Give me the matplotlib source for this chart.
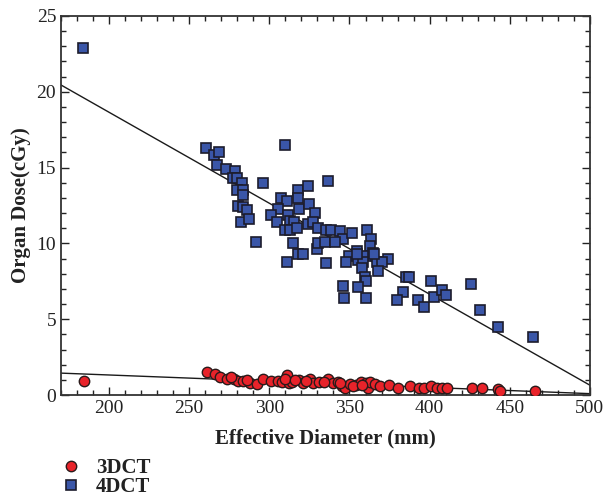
import numpy as np
import matplotlib
matplotlib.use("Agg")
import matplotlib.pyplot as plt
from matplotlib.ticker import MultipleLocator

# --- DATA ---
x_3dct = [184.3, 261.2, 266.0, 269.3, 273.7, 278.1, 280.3, 283.6, 288.0, 292.0,
          296.3, 300.8, 305.1, 308.2, 311.0, 312.2, 314.3, 318.7, 320.9, 325.3,
          327.5, 330.8, 336.3, 339.6, 342.9, 345.1, 347.3, 350.6, 353.9, 357.2,
          360.5, 361.6, 362.7, 366.0, 369.3, 374.7, 380.2, 388.0, 393.5, 396.7,
          401.1, 404.4, 407.7, 411.0, 426.4, 432.5, 442.4, 443.9, 465.9,
          310.0, 316.0, 323.0, 334.0, 344.0, 352.0, 358.0, 276.0, 286.0]
y_3dct = [0.95, 1.55, 1.38, 1.22, 1.08, 1.08, 0.92, 0.92, 0.80, 0.72,
          1.08, 0.92, 0.92, 0.88, 1.30, 0.80, 0.84, 0.98, 0.80, 1.08,
          0.80, 0.84, 1.08, 0.80, 0.84, 0.62, 0.46, 0.72, 0.68, 0.84,
          0.80, 0.46, 0.84, 0.72, 0.62, 0.68, 0.46, 0.57, 0.46, 0.46,
          0.57, 0.46, 0.46, 0.46, 0.50, 0.50, 0.40, 0.28, 0.28,
          1.08, 0.98, 0.92, 0.88, 0.78, 0.58, 0.68, 1.18, 0.98]

x_4dct = [183.7, 260.5, 265.6, 268.8, 267.1, 273.0, 278.5, 277.5, 279.6, 282.7,
          279.6, 283.3, 283.3, 280.6, 283.3, 285.8, 282.1, 287.5, 296.2, 291.5,
          310.0, 307.0, 311.2, 317.6, 318.0, 324.3, 305.6, 300.8, 305.0, 311.8,
          312.8, 318.7, 324.7, 328.5, 315.3, 309.7, 312.9, 317.4, 324.3, 327.4,
          330.1, 314.5, 311.2, 318.0, 321.2, 329.5, 330.5, 336.4, 335.3, 338.4,
          344.0, 346.1, 351.7, 361.1, 363.4, 362.8, 334.7, 340.9, 354.4, 349.7,
          355.5, 360.3, 364.8, 374.2, 358.6, 347.8, 335.3, 366.9, 370.0, 354.8,
          365.3, 367.5, 358.0, 359.6, 360.3, 346.1, 355.5, 346.5, 360.3, 385.2,
          387.3, 400.6, 383.5, 379.4, 392.9, 396.6, 402.7, 407.5, 410.2, 426.0,
          431.4, 442.8, 464.6]
y_4dct = [22.9, 16.3, 15.8, 16.0, 15.2, 14.9, 14.8, 14.3, 14.3, 14.0,
          13.5, 13.5, 13.2, 12.5, 12.4, 12.2, 11.4, 11.6, 14.0, 10.1,
          16.5, 13.0, 12.8, 13.5, 13.0, 13.8, 12.3, 11.9, 11.4, 11.9,
          11.5, 12.3, 12.6, 12.0, 11.4, 10.9, 10.9, 11.0, 11.3, 11.4,
          11.0, 10.0, 8.8, 9.3, 9.3, 9.6, 10.0, 14.1, 10.9, 10.9,
          10.8, 10.3, 10.7, 10.9, 10.3, 9.8, 10.1, 10.1, 9.5, 9.2,
          8.9, 9.2, 9.4, 9.0, 8.8, 8.8, 8.7, 8.8, 8.8, 9.3,
          9.3, 8.2, 8.4, 7.8, 7.5, 7.2, 7.1, 6.4, 6.4, 7.8,
          7.8, 7.5, 6.8, 6.3, 6.3, 5.8, 6.5, 6.9, 6.6, 7.3,
          5.6, 4.5, 3.8]

# linear fits (slope, intercept)
fit_3dct = (-0.00410, 2.147)
fit_4dct = (-0.05997, 30.64)

series_labels = ["3DCT", "4DCT"]

# --- PLOT ---
plt.rcParams['font.family'] = ['Liberation Serif', 'DejaVu Serif']
fig = plt.figure(figsize=(6.10, 4.97), dpi=100)
ax = fig.add_axes([0.100, 0.205, 0.867, 0.763])

xlim = (170, 500)
xs = np.array(xlim)
ax.plot(xs, fit_4dct[0] * xs + fit_4dct[1], color='#1a1a1a', lw=1.0, zorder=2)
ax.plot(xs, fit_3dct[0] * xs + fit_3dct[1], color='#1a1a1a', lw=1.0, zorder=2)

ax.plot(x_3dct, y_3dct, 'o', ms=7.5, mfc='#e8232a', mec='#2a1a1a', mew=1.0,
        ls='none', label=series_labels[0], zorder=3)
ax.plot(x_4dct, y_4dct, 's', ms=7, mfc='#3a56a8', mec='#1c1c2c', mew=1.2,
        ls='none', label=series_labels[1], zorder=3)

ax.set_xlim(*xlim)
ax.set_ylim(0, 25)
ax.xaxis.set_major_locator(MultipleLocator(50))
ax.xaxis.set_minor_locator(MultipleLocator(10))
ax.yaxis.set_major_locator(MultipleLocator(5))
ax.yaxis.set_minor_locator(MultipleLocator(1))
ax.tick_params(which='both', direction='in', top=True, right=True,
               labelsize=14, colors='#222222', width=1.0)
ax.tick_params(which='major', length=6)
ax.tick_params(which='minor', length=3.5)
for sp in ax.spines.values():
    sp.set_linewidth(1.3)
    sp.set_color('#333333')

ax.set_xlabel("Effective Diameter (mm)", fontsize=15, fontweight='bold',
              color='#222222', labelpad=8)
ax.set_ylabel("Organ Dose(cGy)", fontsize=15, fontweight='bold',
              color='#222222', labelpad=4)

h, l = ax.get_legend_handles_labels()
fig.legend(h, l, loc='lower left', bbox_to_anchor=(0.072, -0.030),
           frameon=False, prop={'weight': 'bold', 'size': 15},
           handletextpad=0.6, labelspacing=-0.05, borderpad=0.2,
           handlelength=1.2, labelcolor='#222222')

fig.savefig("out.png", dpi=100)
